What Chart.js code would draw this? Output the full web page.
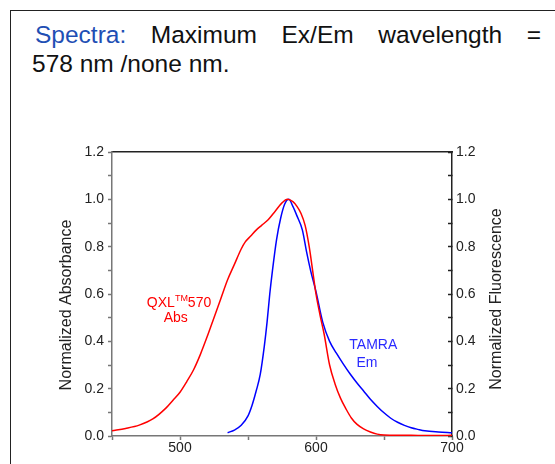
<!DOCTYPE html>
<html>
<head>
<meta charset="utf-8">
<script src="https://cdn.jsdelivr.net/npm/chart.js@4.4.1/dist/chart.umd.min.js"></script>
<style>
  html, body { margin: 0; padding: 0; background: #fff; overflow: hidden; width: 555px; height: 464px; }
  #box { position: absolute; left: 10px; top: 10px; width: 600px; height: 520px; border: 1.5px solid #222; }
  .line { position: absolute; left: 32px; width: 509px; font: 24.5px "Liberation Sans", Arial, sans-serif; line-height: 29px; color: #111; white-space: nowrap; }
  #l1 { top: 20px; text-align: justify; text-align-last: justify; white-space: normal; text-indent: 3px; }
  #l2 { top: 49px; }
  .hl { color: #1f4fb4; }
  #chart { position: absolute; left: 0; top: 0; }
</style>
</head>
<body>
<div id="box"></div>
<div class="line" id="l1"><span class="hl">Spectra:</span> Maximum Ex/Em wavelength =</div>
<div class="line" id="l2">578 nm /none nm.</div>
<canvas id="chart" width="555" height="464"></canvas>
<script>
// QXL 570 absorbance
const absWl = [450, 460, 470, 480, 490, 495, 500, 505, 510, 515, 520, 525, 530, 535, 540, 545, 548,
  552, 556, 560, 565, 570, 575, 579, 583, 586, 589, 592, 595, 598, 600, 603, 606, 610, 614, 618,
  622, 626, 630, 635, 640, 645, 650, 660, 670, 680, 690, 700];
const absVal = [0.022, 0.032, 0.046, 0.072, 0.12, 0.152, 0.185, 0.23, 0.28, 0.345, 0.42, 0.50, 0.58,
  0.66, 0.725, 0.79, 0.82, 0.845, 0.87, 0.89, 0.915, 0.95, 0.985, 1.0, 0.99, 0.97, 0.94, 0.89,
  0.80, 0.68, 0.60, 0.51, 0.43, 0.30, 0.22, 0.16, 0.115, 0.076, 0.05, 0.03, 0.017, 0.008, 0.004,
  0.003, 0.003, 0.002, 0.002, 0.003];

// TAMRA emission
const emWl = [535, 540, 545, 550, 553, 556, 559, 562, 564, 566, 568, 571, 574, 577, 580, 583, 586,
  590, 593, 596, 600, 605, 610, 615, 620, 625, 630, 635, 640, 645, 650, 655, 660, 665, 670, 675,
  680, 690, 700];
const emVal = [0.014, 0.025, 0.045, 0.085, 0.13, 0.19, 0.26, 0.38, 0.48, 0.60, 0.70, 0.83, 0.92,
  0.98, 1.0, 0.97, 0.93, 0.87, 0.78, 0.70, 0.61, 0.48, 0.40, 0.35, 0.305, 0.263, 0.225, 0.19, 0.155,
  0.125, 0.098, 0.075, 0.058, 0.045, 0.035, 0.028, 0.022, 0.017, 0.014];

const xMin = 450, xMax = 700, xStep = 50;
const yMin = 0, yMax = 1.2, yStep = 0.1;

// curve labels, placed in data coordinates
const curveLabels = [
  { parts: [["QXL", 14, 0], ["TM", 9, -6], ["570", 14, 0]], x: 499.3, y: 0.546, color: "#ff0000" },
  { parts: [["Abs", 14, 0]], x: 496.9, y: 0.48, color: "#ff0000" },
  { parts: [["TAMRA", 14, 0]], x: 642.1, y: 0.368, color: "#2a2aff" },
  { parts: [["Em", 14, 0]], x: 637.5, y: 0.293, color: "#2a2aff" }
];

const FONT = '"Liberation Sans", Arial, sans-serif';
Chart.defaults.font.family = FONT;
Chart.defaults.color = "#222";

function toXY(xs, ys) {
  return xs.map((x, i) => ({ x: x, y: ys[i] }));
}

const textPlugin = {
  id: "textPlugin",
  afterDraw(chart) {
    const ctx = chart.ctx;
    const sx = chart.scales.x, sy = chart.scales.y;
    ctx.save();
    ctx.textBaseline = "alphabetic";
    curveLabels.forEach(lab => {
      let w = 0;
      lab.parts.forEach(p => { ctx.font = p[1] + "px " + FONT; w += ctx.measureText(p[0]).width; });
      let px = sx.getPixelForValue(lab.x) - w / 2;
      const py = sy.getPixelForValue(lab.y);
      ctx.fillStyle = lab.color;
      ctx.textAlign = "left";
      lab.parts.forEach(p => {
        ctx.font = p[1] + "px " + FONT;
        ctx.fillText(p[0], px, py + p[2]);
        px += ctx.measureText(p[0]).width;
      });
    });

    // axis titles, both read bottom to top
    ctx.font = "16px " + FONT;
    ctx.fillStyle = "#222";
    ctx.textAlign = "center";
    ctx.textBaseline = "middle";
    const mid = (chart.chartArea.top + chart.chartArea.bottom) / 2;
    [["Normalized Absorbance", chart.chartArea.left - 45, mid + 11],
     ["Normalized Fluorescence", chart.chartArea.right + 45, mid + 5]].forEach(t => {
      ctx.save();
      ctx.translate(t[1], t[2]);
      ctx.rotate(-Math.PI / 2);
      ctx.fillText(t[0], 0, 0);
      ctx.restore();
    });
    ctx.restore();
  }
};

function yLabel(v) {
  const k = Math.round(v * 10);
  return k % 2 === 0 ? (k / 10).toFixed(1) : "";
}

new Chart(document.getElementById("chart"), {
  type: "line",
  data: {
    datasets: [
      {
        label: "QXL 570 Abs",
        data: toXY(absWl, absVal),
        borderColor: "#ff0000",
        borderWidth: 1.5,
        pointRadius: 0,
        cubicInterpolationMode: "monotone",
        yAxisID: "y"
      },
      {
        label: "TAMRA Em",
        data: toXY(emWl, emVal),
        borderColor: "#0000ff",
        borderWidth: 1.5,
        pointRadius: 0,
        cubicInterpolationMode: "monotone",
        yAxisID: "y2"
      }
    ]
  },
  options: {
    responsive: false,
    animation: false,
    layout: { padding: { top: 152, left: 0, right: 0, bottom: 0 } },
    plugins: { legend: { display: false }, tooltip: { enabled: false } },
    scales: {
      x: {
        type: "linear", position: "bottom", min: xMin, max: xMax,
        ticks: {
          stepSize: xStep, font: { size: 14 }, color: "#222", padding: 0, maxRotation: 0,
          callback: v => (v % 100 === 0 && v !== xMin) ? String(v) : ""
        },
        grid: { drawOnChartArea: false, tickLength: 4, tickColor: "#777", tickWidth: 1.5 },
        border: { color: "#777", width: 1.5 },
        afterFit: s => { s.height = 28; }
      },
      x2: {
        type: "linear", position: "top", min: xMin, max: xMax,
        ticks: { display: false },
        grid: { display: false },
        border: { color: "#222", width: 1.5 },
        afterFit: s => { s.height = 0; }
      },
      y: {
        type: "linear", position: "left", min: yMin, max: yMax,
        ticks: { stepSize: yStep, font: { size: 14 }, color: "#222", padding: 4, callback: yLabel },
        grid: { drawOnChartArea: false, tickLength: 4, tickColor: "#777", tickWidth: 1.5 },
        border: { color: "#777", width: 1.5 },
        afterFit: s => { s.width = 112; }
      },
      y2: {
        type: "linear", position: "right", min: yMin, max: yMax,
        ticks: { stepSize: yStep, font: { size: 14 }, color: "#222", padding: 8, callback: yLabel },
        grid: { drawOnChartArea: false, tickLength: -4, tickColor: "#222", tickWidth: 1.5 },
        border: { color: "#222", width: 1.5 },
        afterFit: s => { s.width = 103; }
      }
    }
  },
  plugins: [textPlugin]
});
</script>
</body>
</html>
